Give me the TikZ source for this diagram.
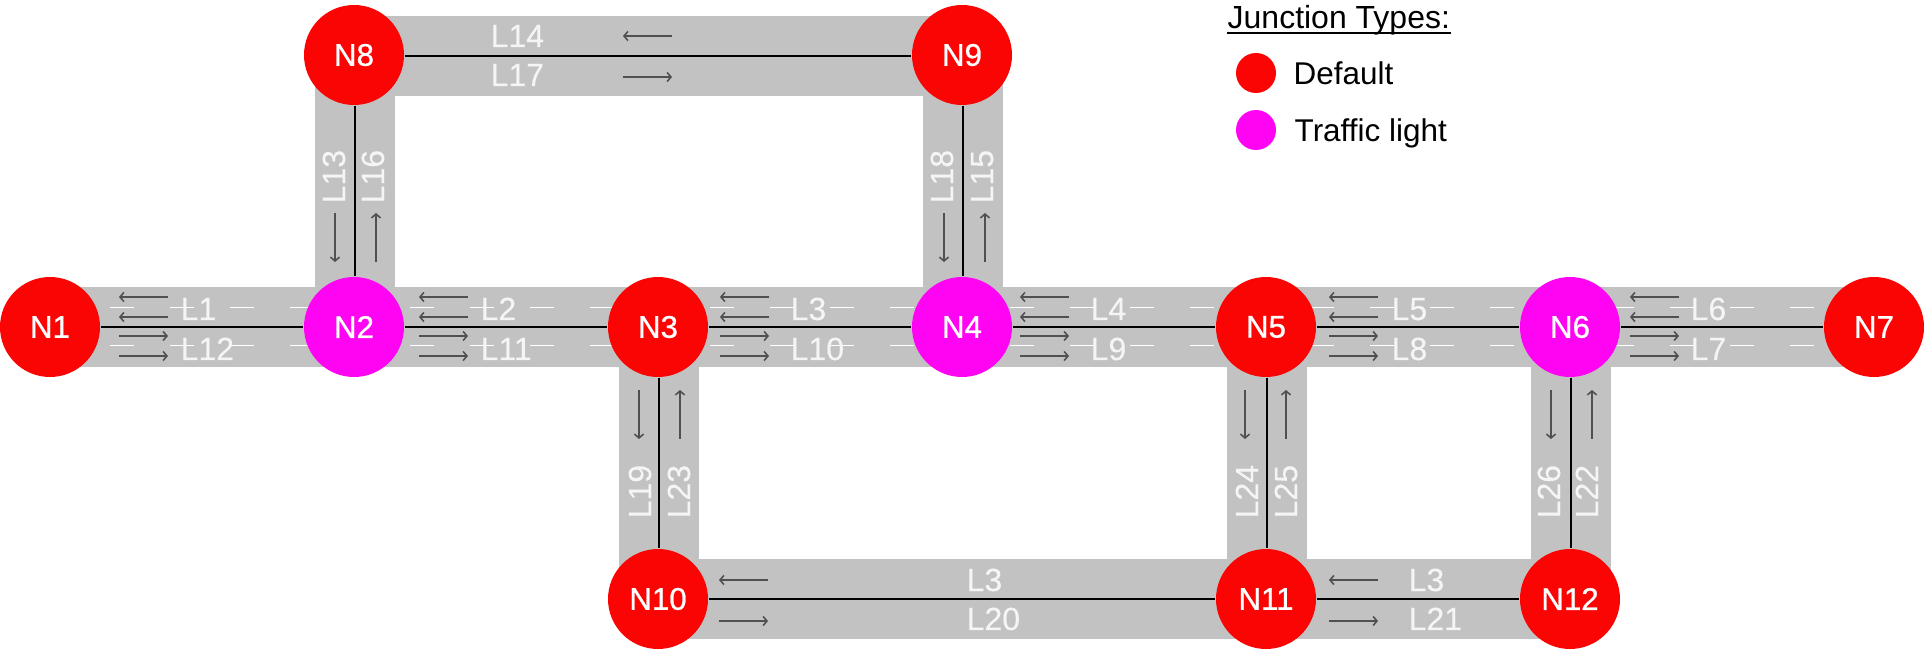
\documentclass[tikz,border=0pt]{standalone}
\usepackage{fontspec}
\usepackage{xcolor}
\usetikzlibrary{arrows.meta,backgrounds}
\setmainfont{Liberation Sans}
\newfontfamily\junctionfont[FakeBold=0.8]{Liberation Sans}
\newfontfamily\lanefont[FakeBold=0.3]{Liberation Sans}
\definecolor{roadgray}{HTML}{C2C2C2}
\definecolor{arrowgray}{HTML}{505050}
\definecolor{defaultred}{HTML}{FA0404}
\definecolor{lightmagenta}{HTML}{FF04F2}

\begin{document}
\begin{tikzpicture}[
junction/.style={shape=circle,minimum size=1cm,inner sep=0pt,text=white,font=\junctionfont\fontsize{8.9}{10}\selectfont},
legenddot/.style={shape=circle,minimum size=0.4cm,inner sep=0pt},
legendtext/.style={anchor=base west,inner sep=0pt,font=\fontsize{8.95}{10}\selectfont},
road/.style={line width=0.8cm,roadgray},
roadline/.style={line width=0.32pt,black},
laneline/.style={line width=0.22pt,white,dash pattern=on 0.24cm off 0.36cm},
lanearrow/.style={line width=0.45pt,arrowgray,-{Straight Barb[length=1.1pt,width=2.6pt]}},
lanelabel/.style={anchor=base west,inner sep=0pt,text=white!96!black,font=\lanefont\fontsize{9.1}{10}\selectfont}]
\useasboundingbox(0,0)rectangle(19.24,6.49);
\foreach \name/\x/\y/\col in {N1/0.5/3.22/defaultred,N2/3.54/3.22/lightmagenta,N3/6.58/3.22/defaultred,
N4/9.62/3.22/lightmagenta,N5/12.66/3.22/defaultred,N6/15.7/3.22/lightmagenta,N7/18.74/3.22/defaultred,
N8/3.54/5.94/defaultred,N9/9.62/5.94/defaultred,N10/6.58/0.5/defaultred,N11/12.66/0.5/defaultred,N12/15.7/0.5/defaultred}
\node[junction,fill=\col](\name)at(\x,\y){\name};
\begin{scope}[on background layer]
\draw[road](N1.center)--(N7.center);
\draw[road](N10.center)--(N12.center);
\draw[road]([yshift=-0.01cm]N8.center)--([yshift=-0.01cm]N9.center);
\foreach \a/\b in {N8/N2,N9/N4,N3/N10,N5/N11,N6/N12}
\draw[road]([xshift=0.01cm]\a.center)--([xshift=0.01cm]\b.center);
\foreach \a/\b in {N1/N2,N2/N3,N3/N4,N4/N5,N5/N6,N6/N7,N10/N11,N11/N12}
\draw[roadline](\a)--(\b);
\draw[roadline]([yshift=-0.01cm]N8.east)--([yshift=-0.01cm]N9.west);
\foreach \a/\b in {N8/N2,N9/N4,N3/N10,N5/N11,N6/N12}
\draw[roadline]([xshift=0.01cm]\a.south)--([xshift=0.01cm]\b.north);
\draw[laneline]([shift={(0.6,0.2)}]N1.center)--([shift={(-0.5,0.2)}]N7.center);
\draw[laneline]([shift={(0.6,-0.18)}]N1.center)--([shift={(-0.5,-0.18)}]N7.center);
\foreach \a/\ax in {N1/0.69,N2/0.65,N3/0.62,N4/0.58,N5/0.63,N6/0.6}{
\draw[lanearrow]([shift={(\ax+0.49,0.3)}]\a.center)--+(-0.49,0);
\draw[lanearrow]([shift={(\ax+0.49,0.1)}]\a.center)--+(-0.49,0);
\draw[lanearrow]([shift={(\ax,-0.09)}]\a.center)--+(0.49,0);
\draw[lanearrow]([shift={(\ax,-0.29)}]\a.center)--+(0.49,0);
}
\foreach \a/\ax in {N8/2.69,N10/0.61,N11/0.63}{
\draw[lanearrow]([shift={(\ax+0.49,0.19)}]\a.center)--+(-0.49,0);
\draw[lanearrow]([shift={(\ax,-0.22)}]\a.center)--+(0.49,0);
}
\foreach \a/\l/\r in {N2/-0.19/0.22,N4/-0.18/0.23}{
\draw[lanearrow]([shift={(\l,1.14)}]\a.center)--+(0,-0.49);
\draw[lanearrow]([shift={(\r,0.65)}]\a.center)--+(0,0.49);
}
\foreach \a/\l/\r in {N3/-0.19/0.22,N5/-0.21/0.2,N6/-0.19/0.22}{
\draw[lanearrow]([shift={(\l,-0.63)}]\a.center)--+(0,-0.49);
\draw[lanearrow]([shift={(\r,-1.12)}]\a.center)--+(0,0.49);
}
\end{scope}
\foreach \a/\up/\dn/\lx in {N1/L1/L12/1.3,N2/L2/L11/1.26,N3/L3/L10/1.32,N4/L4/L9/1.28,N5/L5/L8/1.25,N6/L6/L7/1.2}{
\node[lanelabel](\a-up)at([shift={(\lx,0.07)}]\a.center){\up};
\node[lanelabel](\a-dn)at([shift={(\lx,-0.33)}]\a.center){\dn};
}
\foreach \a/\up/\dn/\lx in {N8/L14/L17/1.36,N10/L3/L20/3.08,N11/L3/L21/1.42}{
\node[lanelabel](\a-up)at([shift={(\lx,0.08)}]\a.center){\up};
\node[lanelabel](\a-dn)at([shift={(\lx,-0.31)}]\a.center){\dn};
}
\foreach \a/\lt/\rt/\l/\r in {N2/L13/L16/-0.09/0.3,N4/L18/L15/-0.09/0.31}{
\node[lanelabel,rotate=90](\a-lt)at([shift={(\l,1.23)}]\a.center){\lt};
\node[lanelabel,rotate=90](\a-rt)at([shift={(\r,1.23)}]\a.center){\rt};
}
\foreach \a/\lt/\rt/\l/\r in {N3/L19/L23/-0.07/0.32,N5/L24/L25/-0.08/0.31,N6/L26/L22/-0.1/0.28}{
\node[lanelabel,rotate=90](\a-lt)at([shift={(\l,-1.92)}]\a.center){\lt};
\node[lanelabel,rotate=90](\a-rt)at([shift={(\r,-1.92)}]\a.center){\rt};
}
\node[anchor=base west,inner sep=0pt,font=\fontsize{9.1}{10}\selectfont](title)at(12.27,6.2){Junction Types:};
\draw[line width=0.4pt]([yshift=-0.04cm]title.base west)--([yshift=-0.04cm]title.base east);
\node[legenddot,fill=defaultred](defaultdot)at(12.56,5.76){};
\node[legenddot,fill=lightmagenta](lightdot)at(12.56,5.19){};
\node[legendtext](defaulttext)at(12.93,5.64){Default};
\node[legendtext](lighttext)at(12.94,5.07){Traffic light};
\end{tikzpicture}
\end{document}
